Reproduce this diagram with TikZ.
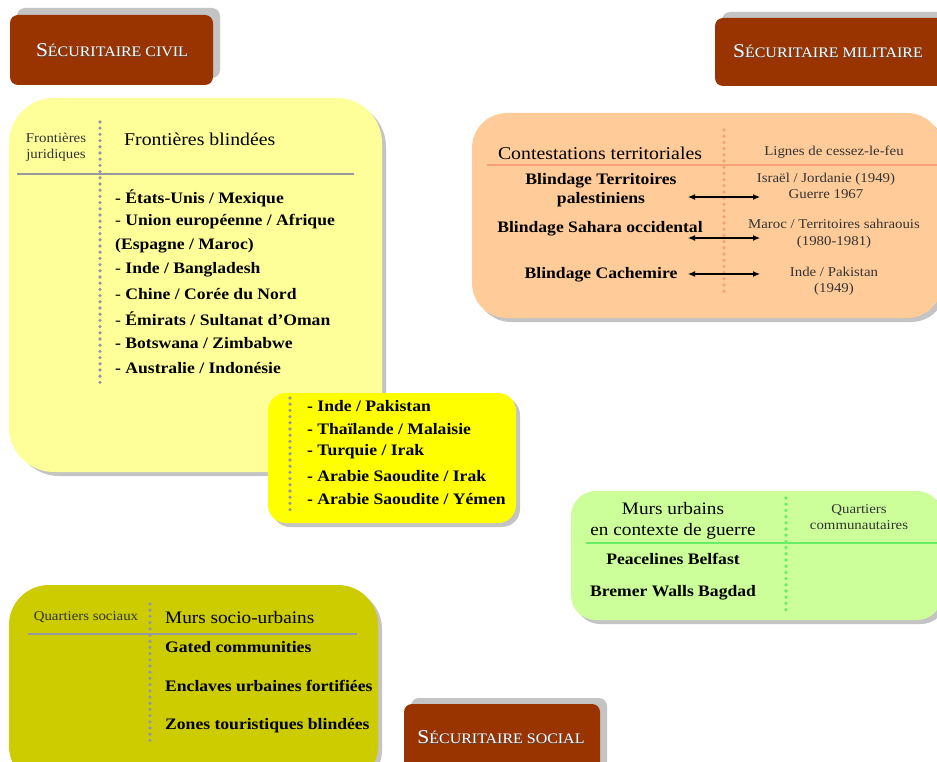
\documentclass[tikz,border=0pt]{standalone}
\usepackage{fontspec}
\setmainfont[FakeStretch=1.1]{Liberation Serif}
\usetikzlibrary{arrows.meta}
\definecolor{cbrown}{HTML}{993300}
\definecolor{cyellow}{HTML}{FFFF99}
\definecolor{cyeltwo}{HTML}{FFFF00}
\definecolor{corange}{HTML}{FFCC99}
\definecolor{coline}{HTML}{F5A276}
\definecolor{cgreen}{HTML}{CCFF99}
\definecolor{cgline}{HTML}{66EE66}
\definecolor{colive}{HTML}{CCCC00}
\definecolor{cgray}{HTML}{9898A0}
\definecolor{cshadow}{HTML}{C4C4C4}
\definecolor{csmall}{HTML}{333333}
\tikzset{
  dotline/.style={line width=3.6pt, line cap=round, dash pattern=on 0pt off 6.2pt},
  sepline/.style={line width=2pt},
  item/.style={anchor=west, inner sep=0pt, font=\fontsize{16}{17}\selectfont\bfseries},
  citem/.style={anchor=center, inner sep=0pt, align=center, font=\fontsize{16}{19}\selectfont\bfseries},
  head/.style={inner sep=0pt, font=\fontsize{18}{21}\selectfont},
  small/.style={inner sep=0pt, align=center, text=csmall, font=\fontsize{13.5}{16.5}\selectfont},
  ttl/.style={inner sep=0pt, text=white},
  ttlsh/.style={inner sep=0pt, text=black!70},
  dbl/.style={{Latex[length=7pt,width=6pt]}-{Latex[length=7pt,width=6pt]}, line width=1.2pt}
}
\newcommand{\mysc}[2]{{\fontsize{19.5}{20}\selectfont #1}{\fontsize{14.5}{15}\selectfont #2}}
\begin{document}
\begin{tikzpicture}[x=1pt,y=-1pt]
\useasboundingbox (0,0) rectangle (937,762);
\clip (0,0) rectangle (937,762);
\fill[white] (0,0) rectangle (937,762);

% ---------- title boxes ----------
\fill[cshadow, rounded corners=8pt] (17,8) rectangle (220,78);
\fill[cbrown, rounded corners=8pt] (10,15) rectangle (213,85);
\node[ttlsh] at (112.8,50.8) {\mysc{S}{ÉCURITAIRE CIVIL}};
\node[ttl] (civil) at (112,50) {\mysc{S}{ÉCURITAIRE CIVIL}};

\fill[cshadow, rounded corners=8pt] (722,12) rectangle (950,80);
\fill[cbrown, rounded corners=8pt] (715,18) rectangle (945,86);
\node[ttlsh] at (828.8,51.8) {\mysc{S}{ÉCURITAIRE MILITAIRE}};
\node[ttl] (militaire) at (828,51) {\mysc{S}{ÉCURITAIRE MILITAIRE}};

\fill[cshadow, rounded corners=8pt] (411,698) rectangle (607,780);
\fill[cbrown, rounded corners=8pt] (404,704) rectangle (600,780);
\node[ttlsh] at (501.8,737.8) {\mysc{S}{ÉCURITAIRE SOCIAL}};
\node[ttl] (social) at (501,737) {\mysc{S}{ÉCURITAIRE SOCIAL}};

% ---------- big yellow panel ----------
\fill[cshadow, rounded corners=45pt] (14,102) rectangle (386,476);
\fill[cyellow, rounded corners=45pt] (9,98) rectangle (382,472);
\draw[cgray, dotline] (100,122) -- (100,388);
\draw[cgray, sepline] (17,174) -- (354,174);
\node[small] (fj) at (56,147) {Frontières\\juridiques};
\node[head, anchor=west] (fb) at (124,139) {Frontières blindées};
\node[item] (y1) at (115,198) {- États-Unis / Mexique};
\node[item] (y2) at (115,222) {{\mdseries -} Union européenne / Afrique};
\node[item] (y3) at (115,246) {(Espagne / Maroc)};
\node[item] (y4) at (115,270) {{\mdseries -} Inde / Bangladesh};
\node[item] (y5) at (115,294) {{\mdseries -} Chine / Corée du Nord};
\node[item] (y6) at (115,319) {{\mdseries -} Émirats / Sultanat d’Oman};
\node[item] (y7) at (115,343) {- Botswana / Zimbabwe};
\node[item] (y8) at (115,368) {- Australie / Indonésie};

% ---------- bright yellow panel ----------
\fill[cshadow, rounded corners=18pt] (272,397) rectangle (520,527);
\fill[cyeltwo, rounded corners=18pt] (268,393) rectangle (516,523);
\draw[cgray, dotline] (290,398) -- (290,513);
\node[item] (b1) at (307,406) {- Inde / Pakistan};
\node[item] (b2) at (307,429) {- Thaïlande / Malaisie};
\node[item] (b3) at (307,452) {- Turquie / Irak};
\node[item] (b4) at (307,476) {- Arabie Saoudite / Irak};
\node[item] (b5) at (307,499) {- Arabie Saoudite / Yémen};

% ---------- orange panel ----------
\fill[cshadow, rounded corners=35pt] (476,117) rectangle (946,322);
\fill[corange, rounded corners=35pt] (472,113) rectangle (942,318);
\draw[coline, dotline] (724,130) -- (724,295);
\draw[coline, sepline] (487,165) -- (937,165);
\node[head] (ct) at (600,153) {Contestations territoriales};
\node[small] (lc) at (834,152) {Lignes de cessez-le-feu};
\node[citem] (bt) at (601,190) {Blindage Territoires\\palestiniens};
\node[small] (ij) at (826,186) {Israël / Jordanie (1949)\\Guerre 1967};
\node[citem] (bs) at (600,228.5) {Blindage Sahara occidental};
\node[small] (mt) at (834,234) {Maroc / Territoires sahraouis\\(1980-1981)};
\node[citem] (bc) at (601,275) {Blindage Cachemire};
\node[small] (ip) at (834,281.5) {Inde / Pakistan\\(1949)};
\coordinate (a1l) at (688,197); \coordinate (a1r) at (760,197);
\coordinate (a2l) at (688,238); \coordinate (a2r) at (760,238);
\coordinate (a3l) at (688,274); \coordinate (a3r) at (760,274);
\draw[dbl] (a1l) -- (a1r);
\draw[dbl] (a2l) -- (a2r);
\draw[dbl] (a3l) -- (a3r);

% ---------- green panel ----------
\fill[cshadow, rounded corners=25pt] (575,495) rectangle (946,624);
\fill[cgreen, rounded corners=25pt] (571,491) rectangle (942,620);
\draw[cgline, dotline] (786,498) -- (786,611);
\draw[cgline, sepline] (586,543) -- (937,543);
\node[head, align=center, font=\fontsize{17.5}{21}\selectfont] (mu) at (673,520.5) {Murs urbains\\en contexte de guerre};
\node[small] (qc) at (859,517) {Quartiers\\communautaires};
\node[citem] (pb) at (673,559) {Peacelines Belfast};
\node[citem] (bw) at (673,593) {Bremer Walls Bagdad};

% ---------- olive panel ----------
\fill[cshadow, rounded corners=40pt] (13,589) rectangle (382,790);
\fill[colive, rounded corners=40pt] (9,585) rectangle (378,786);
\draw[cgray, dotline] (150,604) -- (150,743);
\draw[cgray, sepline] (28,634) -- (357,634);
\node[small] (qs) at (86,617) {Quartiers sociaux};
\node[head, anchor=west, font=\fontsize{17.5}{21}\selectfont] (ms) at (165,618) {Murs socio-urbains};
\node[item] (o1) at (165,647) {Gated communities};
\node[item] (o2) at (165,686) {Enclaves urbaines fortifiées};
\node[item] (o3) at (165,726) {Zones touristiques blindées};
\end{tikzpicture}
\end{document}
